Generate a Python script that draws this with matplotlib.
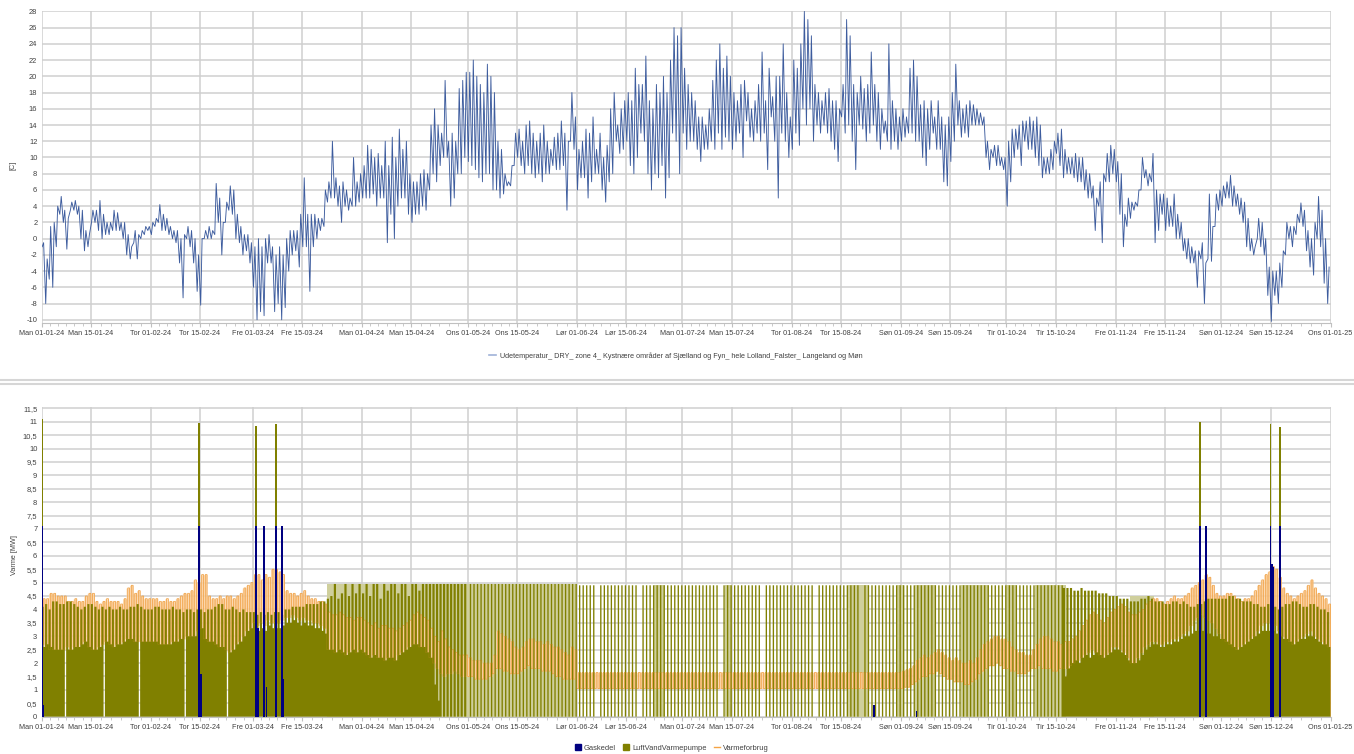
import numpy as np
import pandas as pd
import matplotlib

matplotlib.use("Agg")
import matplotlib.pyplot as plt
from matplotlib.lines import Line2D
from matplotlib.patches import Patch

plt.rcParams["font.family"] = ["Liberation Sans", "DejaVu Sans"]
plt.rcParams["axes.unicode_minus"] = False

START = pd.Timestamp("2024-01-01")

# --- outdoor temperature, daily low / high [C] ---
temp_min = [
    -1, -8, -5, -6, -1, 3, 2, -1.3, 3.5, 3.5, 3, 0, -1.5, -1, 2, 2, 1, 0, 0.5, 0.5, 1, 1, 1, 0, -2, -2.5, -0.5, -2.5, 0, 0.5, 1,
    0.5, 1.5, 2, 1, 1, 0.5, 0, -0.5, -3, -7.3, 0, -1, -3, -6.5, -8.2, 0, 0, 0, 0.5, 2, -2, 2, 3.5, 3, 0, -0.5, -2, -1.5, -3,
    -6, -10, -9, -9.5, -3, -3, -9, -8, -10, -8.5, -4, -2, -1.5, -3.5, -1, -1, -6.5, -1, 0, 1, 1.5, 4.5, 5, 5, 4, 2, 4, 3.5, 4, 4, 4.5,
    5, 5, 5, 5.5, 4, 5, 5, -0.5, 3, 0, 4, 5, 5, 3, 2, 3, 3, 4, 3.5, 6, 8, 7, 9, 10, 10, 4, 5, 8, 8, 10,
    9.5, 9, 8.5, 7.5, 7, 8, 8, 6, 6, 5, 5.5, 6.5, 6.5, 9, 10, 9, 8, 9, 8, 7.5, 8, 7, 8, 8, 9, 8.5, 8.5, 9, 3.5, 12, 11,
    6, 7.5, 7.5, 5, 7, 8, 8, 6, 4.5, 7, 8, 12, 10.5, 11, 12, 9, 8, 10, 13, 12, 8, 6, 8, 7.5, 9, 5, 7.5, 13, 12, 8,
    13, 11, 12, 12, 11, 9.5, 11, 11, 12, 11, 13, 11, 12.5, 12, 11, 12, 13, 10, 14.5, 12.5, 12, 13, 12, 13, 8.5, 15, 12, 5, 13, 12, 10,
    11, 13, 11.5, 16, 14, 16, 12, 14, 13, 14, 13, 12, 11, 9.5, 15, 13, 14, 12, 8.5, 14, 13.5, 12, 13, 14, 12, 11, 13, 12, 11, 12, 11,
    12, 12.5, 13, 13, 12, 12, 10, 9, 11, 13, 11, 11, 7, 6.5, 9.5, 12, 14, 12.5, 13, 12.5, 14, 14, 14, 14, 10, 8.5, 10, 9, 9, 8.5,
    4, 7, 10, 11, 9, 12, 11, 11, 10, 9, 7.5, 8, 8, 8.5, 10.5, 9, 7.5, 8, 8, 7.5, 7, 7, 6, 5, 5, 1, 4, -0.5, 7, 7, 8,
    7, 3, -1, 1.5, 2.5, 3.5, 4, 6, 7.5, 6.5, 7, -0.5, 1, 3, 1, 1.5, 1.5, 0, 0, -1.5, -2.5, -3, -3, -6, -2.5, -8, -2.5, -2.8, 1.5, 3.5,
    4, 5, 5, 4, 4, 3, 2, -1, -1.5, -2, 0, -1, -2, -7, -10.2, -7, -8, -6, -2, 0, -1, 0.5, 2, 1.5, -1.5, -3.5, -4.5, 0, -1, -5.5, -8,
]
temp_max = [
    -0.5, -2.5, 1.5, 2, 4, 5.2, 3.5, 2.5, 4.5, 4.7, 4, 3.5, 1, 0.5, 3.5, 3.5, 4.7, 3, 2, 2, 3.5, 3.2, 2, 2, 0.5, -1, 1, 0.5, 1, 1.5, 1.5,
    2, 2.5, 4.2, 3, 2.5, 1.5, 1, 1, 0, 0.5, 1.5, 1, 0, -2, 0, 1, 1.5, 1, 6.8, 5, 2, 4.5, 6.5, 6, 3, 1.5, 0.5, 0.5, -0.5,
    -1, 0, -1, 0, 0.5, -1, -2, -1, -2, 0, 1, 1, 1, 3, 7.5, 3, 3, 3, 2.5, 2.5, 6, 7, 12, 7.5, 6.5, 7, 6, 5, 10, 7, 8,
    9, 11.5, 11, 10, 10.5, 9, 12, 9, 12.5, 10, 13.5, 11, 12, 8, 7, 7, 8, 8.5, 8, 14, 16, 14, 13, 19.5, 12, 13, 12, 18.5, 19.5, 20.5,
    20.5, 22, 20, 19, 18, 21.5, 20, 18, 12, 11, 8, 7, 9, 13, 13.5, 12, 14, 14.5, 13, 12, 13, 14, 12, 11, 12.5, 13, 14.5, 13, 12, 18, 15,
    11, 12, 13.5, 13, 15, 11, 13, 10, 11.5, 16, 18, 14, 16, 17, 18, 17, 21, 19, 19, 22.5, 17, 16, 19, 18, 20, 18, 22, 26, 25, 26,
    21, 19, 18, 17, 15, 15, 14, 16, 19.5, 22, 24, 21, 22.5, 20, 18, 17, 19, 19.5, 18, 16, 17, 19, 23, 17, 21, 17.5, 20, 20, 24, 18, 15,
    22, 21, 24, 28, 27, 25, 19, 18, 17, 18, 18.5, 17, 17, 16, 19, 27, 25, 19, 18, 20, 18.5, 19, 23, 19, 18, 16, 14.5, 24, 17, 16, 15,
    16, 15, 21, 22, 20, 16.5, 17, 16, 17, 15, 17, 15, 14, 15, 18, 21.5, 17, 16, 16.5, 17, 16.5, 16, 15.5, 15, 12, 11, 11.5, 11.5, 10, 10,
    12, 13.5, 13.5, 14, 14.5, 14.5, 15, 14.5, 15, 14, 10, 10, 11, 12, 13, 13.5, 11, 10, 10, 10.5, 10, 10, 8.5, 8, 6.5, 5, 7, 8, 10.5, 11.5, 11,
    9.5, 8, 3, 5, 4.5, 4.5, 6, 10, 8.5, 8, 10.5, 6, 5.5, 5.5, 5, 4, 5.5, 3, 2, 0, 0, -1, -1.5, -1.5, -0.5, -3, 5.5, 1.5, 5.5, 6,
    6.5, 7, 7.8, 6.5, 5.5, 5, 4.5, 2.5, 0, -1, 2.5, 2, 0, -3.5, -4, -4, -3, -1.5, 2, 1.5, 1.5, 3, 4.4, 3.5, 1, 0, 2, 5.2, 3.5, 0, -3.5,
]

# --- heat pump output per day [MW]: long running part / short part of the day ---
pump_run = (
    [4.1, 4.2, 4.0, 4.3, 4.3, 4.2, 4.2, 4.3, 4.3, 4.2, 4.1, 4.0, 4.1, 4.2, 4.2, 4.1, 4.0, 4.1, 4.0, 4.1, 4.0, 4.0, 4.1, 4.0, 4.0, 4.1, 4.1, 4.2, 4.1, 4.0, 4.0]
    + [4.0, 4.1, 4.1, 4.0, 4.0, 4.0, 4.1, 4.0, 4.0, 3.9, 4.0, 4.0, 3.9, 4.0, 4.0, 3.9, 4.0, 4.0, 4.1, 4.2, 4.2, 4.0, 4.0, 4.1, 4.0, 3.9, 4.0, 3.9, 3.9]
    + [3.9, 3.8, 3.9, 3.8, 3.9, 3.8, 3.9, 3.9, 3.8, 4.0, 4.0, 4.1, 4.1, 4.1, 4.1, 4.2, 4.2, 4.2, 4.2, 4.3, 4.3, 4.4, 4.5, 4.95, 4.4, 4.6, 4.95, 4.5, 4.95, 4.6, 4.95]
    + [4.6, 4.95, 4.5, 4.95, 4.95, 4.4, 4.95, 4.7, 4.95, 4.95, 4.6, 4.95, 4.95, 4.5, 4.95, 4.95, 4.7, 4.95, 4.95, 4.95, 4.95, 4.95, 4.95, 4.95, 4.95, 4.95, 4.95, 4.95, 4.95, 4.95]
    + [0.0] * 31 + [0.0] * 30 + [0.0] * 31 + [0.0] * 31 + [0.0] * 30
    + [0.0] * 16 + [4.8, 4.8, 4.8, 4.7, 4.7, 4.8, 4.7, 4.7, 4.7, 4.7, 4.6, 4.6, 4.6, 4.5, 4.5]
    + [4.5, 4.4, 4.4, 4.4, 4.3, 4.3, 4.3, 4.4, 4.4, 4.5, 4.4, 4.3, 4.3, 4.3, 4.2, 4.2, 4.3, 4.3, 4.2, 4.3, 4.2, 4.1, 4.1, 4.2, 4.2, 4.3, 4.4, 4.4, 4.4, 4.4]
    + [4.4, 4.4, 4.5, 4.5, 4.4, 4.4, 4.3, 4.3, 4.3, 4.2, 4.2, 4.1, 4.1, 4.2, 4.2, 4.1, 4.0, 4.1, 4.2, 4.2, 4.3, 4.3, 4.2, 4.1, 4.1, 4.2, 4.2, 4.1, 4.0, 4.0, 3.9]
)
pump_pulse = (
    [2.6, 2.7, 2.6, 2.5, 2.5, 2.5, 0.0, 2.5, 2.5, 2.6, 2.6, 2.7, 2.8, 2.6, 2.5, 2.5, 2.6, 0.0, 2.8, 2.7, 2.6, 2.7, 2.7, 2.8, 2.9, 2.9, 2.8, 0.0, 2.8, 2.8, 2.8]
    + [2.8, 2.8, 2.7, 2.7, 2.7, 2.7, 2.8, 2.8, 2.9, 0.0, 3.0, 3.0, 3.0, 3.2, 3.3, 2.9, 2.8, 2.8, 2.7, 2.6, 2.6, 0.0, 2.4, 2.5, 2.7, 2.8, 3.0, 3.2, 3.3]
    + [3.3, 3.2, 3.3, 3.2, 3.4, 3.3, 3.3, 3.3, 3.4, 3.5, 3.5, 3.6, 3.5, 3.4, 3.5, 3.4, 3.4, 3.3, 3.3, 3.2, 3.1, 2.5, 2.5, 2.4, 2.5, 2.4, 2.3, 2.4, 2.5, 2.4, 2.5]
    + [2.4, 2.3, 2.2, 2.3, 2.2, 2.2, 2.1, 2.2, 2.2, 2.1, 2.3, 2.4, 2.5, 2.6, 2.7, 2.7, 2.6, 2.6, 2.4, 2.2, 1.2, 0.6, 0, 0, 0, 0, 0, 0, 0, 0]
    + [4.95] * 31
    + [4.9, 4.9, 4.9, 4.9, 4.9, 0.0, 4.9, 4.9, 4.9, 4.9, 4.9, 4.9, 4.9, 4.9, 4.9, 4.9, 4.9, 0.0, 4.9, 4.9, 4.9, 4.9, 4.9, 4.9, 4.9, 4.9, 4.9, 4.9, 4.9, 4.9]
    + [4.9, 4.9, 4.9, 4.9, 4.9, 4.9, 4.9, 4.9, 4.9, 4.9, 0.0, 4.9, 4.9, 4.9, 4.9, 4.9, 4.9, 4.9, 4.9, 4.9, 4.9, 4.9, 0.0, 4.9, 4.9, 4.9, 4.9, 4.9, 4.9, 4.9, 4.9]
    + [4.9, 4.9, 4.9, 4.9, 4.9, 4.9, 0.0, 4.9, 4.9, 4.9, 4.9, 4.9, 4.9, 4.9, 4.9, 4.9, 4.9, 4.9, 4.9, 0.0, 4.9, 4.9, 4.9, 4.9, 4.9, 4.9, 4.9, 4.9, 4.9, 4.9, 4.9]
    + [4.9] * 30
    + [4.9] * 16 + [1.5, 1.8, 2.0, 2.1, 2.0, 2.2, 2.3, 2.2, 2.3, 2.4, 2.3, 2.2, 2.3, 2.4, 2.5]
    + [2.5, 2.4, 2.3, 2.1, 2.0, 2.0, 2.1, 2.3, 2.5, 2.6, 2.7, 2.7, 2.6, 2.6, 2.7, 2.7, 2.8, 2.8, 2.9, 3.0, 3.0, 3.1, 3.2, 3.2, 3.2, 3.1, 3.1, 3.0, 3.0, 2.9]
    + [2.9, 2.8, 2.7, 2.6, 2.5, 2.6, 2.7, 2.8, 2.9, 3.0, 3.1, 3.2, 3.2, 3.2, 3.2, 3.1, 3.0, 2.9, 2.9, 2.8, 2.7, 2.8, 2.9, 2.9, 3.0, 3.0, 2.9, 2.8, 2.7, 2.7, 2.6]
)

# periods where the heat pump ran in short pulses (pale fill)
light_start = ["2024-03-22", "2024-06-23", "2024-07-13", "2024-08-17", "2024-08-31", "2024-09-05",
               "2024-09-18", "2024-10-01", "2024-10-09", "2024-11-05", "2024-11-24"]
light_end = ["2024-06-01", "2024-06-26", "2024-07-15", "2024-08-23", "2024-09-02", "2024-09-11",
             "2024-09-26", "2024-10-04", "2024-10-18", "2024-11-12", "2024-12-06"]
light_top = [4.95, 4.9, 4.9, 4.9, 4.9, 4.9, 4.9, 4.9, 4.9, 4.5, 4.4]

# --- heat demand, daily low / high [MW] ---
flat_lo = [1.05] * 92
flat_hi = [1.65] * 92
demand_low = (
    [2.7, 2.6, 2.5, 2.5, 2.5, 2.5, 2.5, 2.6, 2.5, 2.6, 2.6, 2.7, 2.8, 2.6, 2.5, 2.5, 2.6, 2.7, 2.8, 2.7, 2.6, 2.7, 2.7, 2.8, 2.9, 2.9, 2.8, 2.8, 2.8, 2.8, 2.8]
    + [2.8, 2.8, 2.7, 2.7, 2.7, 2.7, 2.8, 2.8, 2.9, 2.9, 3.0, 3.0, 3.0, 3.2, 3.3, 2.9, 2.8, 2.8, 2.7, 2.6, 2.6, 2.5, 2.4, 2.5, 2.7, 2.8, 3.0, 3.2, 3.3]
    + [3.5, 3.4, 3.5, 3.4, 3.6, 3.5, 3.5, 3.5, 3.6, 3.7, 3.7, 3.8, 3.7, 3.6, 3.7, 3.6, 3.6, 3.5, 3.5, 3.4, 3.3, 2.5, 2.5, 2.4, 2.5, 2.4, 2.3, 2.4, 2.5, 2.4, 2.5]
    + [2.4, 2.3, 2.2, 2.3, 2.2, 2.2, 2.1, 2.2, 2.2, 2.1, 2.3, 2.4, 2.5, 2.6, 2.7, 2.7, 2.6, 2.6, 2.4, 2.2, 2.0, 1.8, 1.6, 1.5, 1.6, 1.6, 1.7, 1.6, 1.5, 1.5]
    + [1.5, 1.5, 1.4, 1.4, 1.4, 1.4, 1.5, 1.6, 1.8, 1.8, 1.7, 1.7, 1.6, 1.6, 1.6, 1.7, 1.8, 1.9, 1.8, 1.8, 1.8, 1.7, 1.7, 1.7, 1.6, 1.5, 1.5, 1.4, 1.4, 1.4, 1.4]
    + flat_lo
    + [1.05, 1.1, 1.1, 1.2, 1.3, 1.4, 1.5, 1.5, 1.6, 1.6, 1.7, 1.6, 1.5, 1.4, 1.4, 1.3, 1.3, 1.3, 1.2, 1.2, 1.3, 1.4, 1.6, 1.7, 1.8, 1.9, 1.9, 2.0, 1.9, 1.8]
    + [1.8, 1.7, 1.7, 1.6, 1.6, 1.6, 1.7, 1.8, 1.8, 1.9, 1.8, 1.8, 1.8, 1.7, 1.7, 1.8, 1.8, 1.8, 1.9, 2.0, 2.1, 2.2, 2.3, 2.4, 2.5, 2.4, 2.3, 2.2, 2.3, 2.4, 2.6]
    + [2.6, 2.5, 2.4, 2.2, 2.0, 2.0, 2.2, 2.4, 2.6, 2.7, 2.8, 2.8, 2.7, 2.7, 2.8, 2.8, 2.9, 2.9, 3.0, 3.1, 3.2, 3.4, 3.6, 3.7, 3.8, 3.7, 3.6, 3.5, 3.3, 3.1]
    + [2.9, 2.8, 2.7, 2.6, 2.5, 2.6, 2.7, 2.8, 2.9, 3.0, 3.2, 3.4, 3.5, 3.5, 3.6, 3.4, 3.2, 3.0, 2.9, 2.8, 2.7, 2.8, 2.9, 3.0, 3.1, 3.2, 3.0, 2.9, 2.8, 2.7, 2.6]
)
demand_high = (
    [4.4, 4.4, 4.6, 4.6, 4.5, 4.5, 4.5, 4.3, 4.3, 4.4, 4.3, 4.3, 4.5, 4.6, 4.6, 4.3, 4.2, 4.3, 4.4, 4.3, 4.3, 4.3, 4.2, 4.4, 4.8, 4.9, 4.6, 4.7, 4.5, 4.4, 4.4]
    + [4.4, 4.4, 4.3, 4.3, 4.4, 4.3, 4.3, 4.4, 4.5, 4.6, 4.6, 4.7, 5.1, 5.0, 5.3, 5.3, 4.5, 4.4, 4.4, 4.5, 4.4, 4.5, 4.5, 4.4, 4.5, 4.6, 4.8, 4.9, 5.0]
    + [5.3, 5.3, 5.1, 5.3, 5.2, 5.5, 5.5, 5.4, 5.3, 4.7, 4.6, 4.6, 4.5, 4.6, 4.7, 4.5, 4.4, 4.4, 4.3, 4.3, 4.2, 3.9, 3.8, 3.8, 3.9, 3.8, 3.7, 3.7, 3.6, 3.7, 3.7]
    + [3.6, 3.5, 3.4, 3.5, 3.3, 3.4, 3.4, 3.3, 3.3, 3.2, 3.3, 3.4, 3.5, 3.6, 3.8, 3.9, 3.8, 3.7, 3.6, 3.3, 3.0, 2.8, 3.2, 2.9, 2.6, 2.5, 2.4, 2.3, 2.3, 2.3]
    + [2.2, 2.1, 2.1, 2.1, 2.0, 2.0, 2.0, 2.3, 3.2, 3.1, 3.0, 2.9, 2.8, 2.6, 2.5, 2.6, 2.8, 2.9, 2.9, 2.8, 2.8, 2.7, 2.8, 2.7, 2.6, 2.6, 2.5, 2.4, 2.3, 2.6, 2.5]
    + flat_hi
    + [1.7, 1.75, 1.8, 1.9, 2.1, 2.2, 2.3, 2.2, 2.3, 2.4, 2.5, 2.4, 2.3, 2.2, 2.1, 2.2, 2.1, 2.0, 2.0, 2.1, 2.0, 2.2, 2.5, 2.7, 2.8, 2.9, 3.0, 3.0, 2.9, 2.9]
    + [2.8, 2.6, 2.5, 2.4, 2.4, 2.3, 2.3, 2.5, 2.7, 2.9, 3.0, 3.0, 2.9, 2.8, 2.8, 2.7, 2.8, 2.8, 2.9, 3.0, 3.2, 3.4, 3.6, 3.8, 3.9, 3.8, 3.6, 3.5, 3.7, 3.9, 4.0]
    + [4.1, 4.2, 4.1, 3.9, 3.8, 3.8, 3.9, 4.0, 4.2, 4.3, 4.4, 4.4, 4.3, 4.2, 4.3, 4.4, 4.5, 4.4, 4.4, 4.5, 4.6, 4.8, 4.9, 5.0, 5.1, 5.3, 5.2, 4.9, 4.6, 4.5]
    + [4.5, 4.6, 4.6, 4.5, 4.4, 4.3, 4.4, 4.4, 4.5, 4.7, 4.9, 5.1, 5.3, 5.4, 5.6, 5.5, 5.2, 4.8, 4.6, 4.5, 4.4, 4.5, 4.6, 4.7, 4.9, 5.1, 4.8, 4.6, 4.5, 4.4, 4.2]
)

# --- gas boiler runs, with heat pump output stacked on top [MW] ---
gas_time = ["2024-01-01 03:00", "2024-01-01 15:00", "2024-02-14 17:00", "2024-02-15 06:00",
            "2024-03-01 22:00", "2024-03-02 12:00", "2024-03-04 05:00", "2024-03-04 20:00",
            "2024-03-07 14:00", "2024-03-09 07:00", "2024-03-09 18:00", "2024-08-24 10:00",
            "2024-09-05 10:00", "2024-11-24 22:00", "2024-11-26 14:00", "2024-11-26 20:00",
            "2024-12-15 00:00", "2024-12-15 08:00", "2024-12-15 16:00", "2024-12-17 15:00"]
gas_mw = [7.1, 0.45, 7.1, 1.6, 7.1, 3.3, 7.1, 1.1, 7.1, 7.1, 1.4, 0.45,
          0.2, 7.1, 7.1, 6.3, 7.1, 5.7, 5.6, 7.1]
gas_pump_top = [4.0, 0, 3.85, 0, 3.75, 0, 0, 0, 3.8, 0, 0, 0,
                0, 3.9, 0, 0, 3.8, 0, 0, 3.7]

tick_dates = ["2024-01-01", "2024-01-15", "2024-02-01", "2024-02-15", "2024-03-01", "2024-03-15",
              "2024-04-01", "2024-04-15", "2024-05-01", "2024-05-15", "2024-06-01", "2024-06-15",
              "2024-07-01", "2024-07-15", "2024-08-01", "2024-08-15", "2024-09-01", "2024-09-15",
              "2024-10-01", "2024-10-15", "2024-11-01", "2024-11-15", "2024-12-01", "2024-12-15",
              "2025-01-01"]
tick_labels = ["Man 01-01-24", "Man 15-01-24", "Tor 01-02-24", "Tor 15-02-24", "Fre 01-03-24",
               "Fre 15-03-24", "Man 01-04-24", "Man 15-04-24", "Ons 01-05-24", "Ons 15-05-24",
               "Lør 01-06-24", "Lør 15-06-24", "Man 01-07-24", "Man 15-07-24", "Tor 01-08-24",
               "Tor 15-08-24", "Søn 01-09-24", "Søn 15-09-24", "Tir 01-10-24", "Tir 15-10-24",
               "Fre 01-11-24", "Fre 15-11-24", "Søn 01-12-24", "Søn 15-12-24", "Ons 01-01-25"]

TEMP_LABEL = ("Udetemperatur_ DRY_ zone 4_ Kystnære områder af Sjælland og Fyn_ "
              "hele Lolland_Falster_ Langeland og Møn")

BLUE = "#3d5c9e"
NAVY = "#000080"
OLIVE = "#808000"
PALE_OLIVE = "#cfcf9c"
ORANGE = "#f5a445"
PEACH = "#fdd9b0"
GRID = "#cfcfcf"
TXT = "#404040"
FS = 5.2
RUN_SHARE = 0.62  # part of each day drawn with the long-running heat pump level


def day_of(s):
    return (pd.Timestamp(s) - START) / pd.Timedelta(days=1)


def style_axes(ax):
    ticks = [day_of(t) for t in tick_dates]
    minor = np.concatenate([np.linspace(a, b, 7)[1:-1] for a, b in zip(ticks[:-1], ticks[1:])])
    ax.set_xlim(0, 366)
    ax.set_xticks(ticks)
    ax.set_xticklabels(tick_labels)
    ax.set_xticks(minor, minor=True)
    ax.grid(True, which="major", color=GRID, linewidth=1.1)
    ax.set_axisbelow(True)
    for side in ("top", "right", "left"):
        ax.spines[side].set_visible(False)
    ax.spines["bottom"].set_color("#c0c0c0")
    ax.tick_params(axis="x", which="major", length=3, color="#c0c0c0", labelsize=FS,
                   labelcolor=TXT, pad=2)
    ax.tick_params(axis="x", which="minor", length=2, color="#c0c0c0")
    ax.tick_params(axis="y", length=0, labelsize=FS + 0.2, labelcolor=TXT, pad=3)


fig = plt.figure(figsize=(13.54, 7.54), dpi=100)
ax1 = fig.add_axes([0.03065, 0.5716, 0.9520, 0.4138])
ax2 = fig.add_axes([0.03065, 0.0495, 0.9520, 0.4107])

days = np.arange(len(temp_min))

# top: temperature
t_x = np.column_stack([days + 0.2, days + 0.6]).ravel()
t_y = np.column_stack([temp_min, temp_max]).ravel()
ax1.plot(t_x, t_y, color=BLUE, linewidth=0.65)
ax1.set_ylim(-10.4, 28.05)
ax1.set_yticks(np.arange(-10, 29, 2))
style_axes(ax1)

# bottom: heat production
half_edges = np.arange(0, len(days) + 0.01, 0.5)
pump_edges = np.append(np.column_stack([days, days + RUN_SHARE]).ravel(), len(days))

for s, e, top in zip(light_start, light_end, light_top):
    ax2.bar(day_of(s), top, width=day_of(e) - day_of(s), align="edge",
            color=PALE_OLIVE, linewidth=0, zorder=1)

d_edges = np.append(days, len(days)).astype(float)
ax2.fill_between(d_edges, np.append(demand_low, demand_low[-1]),
                 np.append(demand_high, demand_high[-1]), step="post",
                 color=PEACH, alpha=0.85, linewidth=0, zorder=1.5)
demand = np.column_stack([demand_low, demand_high]).ravel()
ax2.stairs(demand, half_edges, color=ORANGE, linewidth=0.6, alpha=0.85, zorder=1.8)

pump = np.column_stack([pump_run, pump_pulse]).ravel()
ax2.stairs(pump, pump_edges, fill=True, color=OLIVE, linewidth=0, zorder=2)

# faint demand trace over the heat pump
ax2.stairs(demand, half_edges, color="#e0902e", linewidth=0.35, alpha=0.35, zorder=2.5)

g_x = [day_of(t) for t in gas_time]
ax2.bar(g_x, gas_mw, width=0.45, color=NAVY, linewidth=0, zorder=5)
ax2.bar(g_x, gas_pump_top, bottom=gas_mw, width=0.45, color=OLIVE, linewidth=0, zorder=5)

ax2.set_ylim(0, 11.55)
yt = np.arange(0, 11.51, 0.5)
ax2.set_yticks(yt)
ax2.set_yticklabels([f"{v:g}".replace(".", ",") for v in yt])
style_axes(ax2)

fig.text(13 / 1354, 1 - 165 / 754, "[C]", rotation=90, ha="center", va="center",
         fontsize=FS, color=TXT)
fig.text(14 / 1354, 1 - 555 / 754, "Varme [MW]", rotation=90, ha="center", va="center",
         fontsize=FS, color=TXT)

fig.legend([Line2D([], [], color="#9fb2d8", linewidth=1.2)], [TEMP_LABEL],
           loc="center", bbox_to_anchor=(676 / 1354, 1 - 356 / 754), frameon=False,
           fontsize=5.2, handlelength=1.0, handletextpad=0.6, labelcolor=TXT)
fig.legend([Patch(color=NAVY), Patch(color=OLIVE), Line2D([], [], color=ORANGE, linewidth=1)],
           ["Gaskedel", "LuftVandVarmepumpe", "Varmeforbrug"],
           loc="center", bbox_to_anchor=(672 / 1354, 1 - 748 / 754), frameon=False,
           fontsize=5.4, ncol=3, handlelength=0.8, handleheight=0.9,
           handletextpad=0.4, columnspacing=1.0, labelcolor=TXT)

for yy in (380, 384):
    fig.add_artist(Line2D([0, 1], [1 - yy / 754, 1 - yy / 754], transform=fig.transFigure,
                          color="#d6d6d6", linewidth=1.5))

fig.savefig("out.png", dpi=100)
